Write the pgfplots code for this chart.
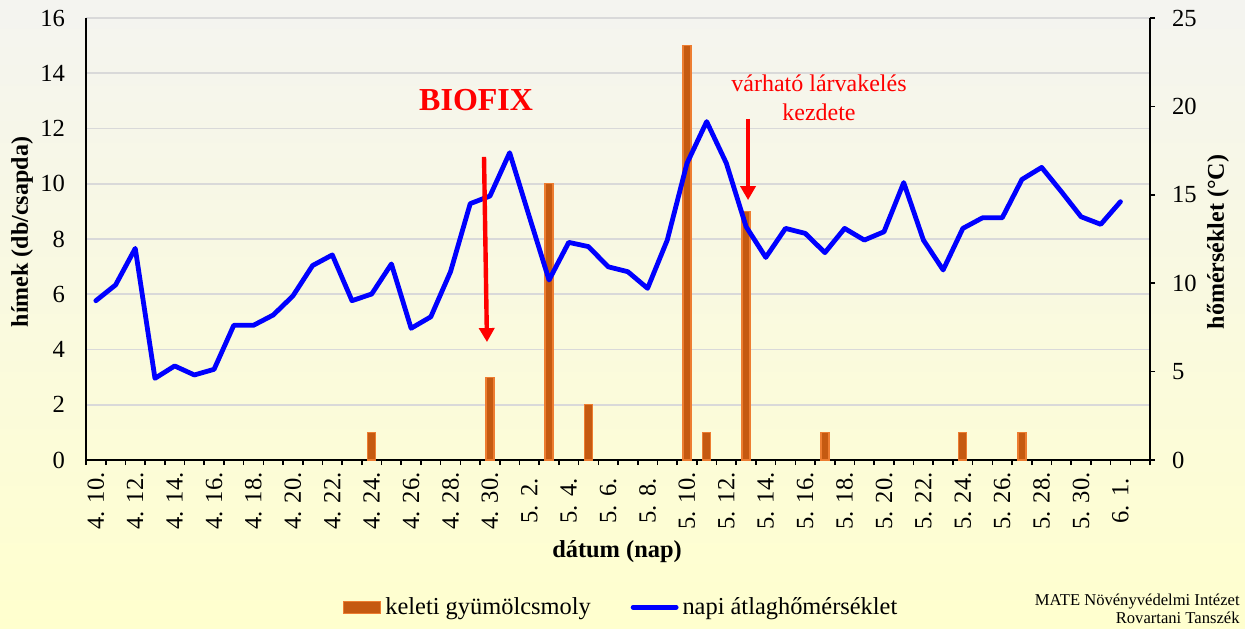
\documentclass[border=0pt]{standalone}
\usepackage{fontspec}
\setmainfont{Liberation Serif}
\usepackage{pgfplots}
\pgfplotsset{compat=1.18}
\usetikzlibrary{arrows.meta}
\definecolor{barfill}{RGB}{197,90,17}
\definecolor{baredge}{RGB}{237,125,49}
\definecolor{gridc}{RGB}{217,217,217}
\definecolor{bgtop}{RGB}{244,244,240}
\definecolor{bgbot}{RGB}{255,255,206}
\definecolor{myred}{RGB}{255,0,0}
\definecolor{myblue}{RGB}{0,0,255}
\newcommand{\tickfont}{\fontsize{12.3}{14}\selectfont}

\pgfplotstableread{
x y
14 1
20 3
23 10
25 2
30 15
31 1
33 9
37 1
44 1
47 1
}\bars

\pgfplotstableread{
x t
0 9.01
1 9.9
2 11.97
3 4.62
4 5.32
5 4.81
6 5.13
7 7.62
8 7.62
9 8.2
10 9.28
11 11.0
12 11.6
13 9.01
14 9.39
15 11.09
16 7.45
17 8.1
18 10.65
19 14.5
20 14.93
21 17.38
22 13.76
23 10.18
24 12.31
25 12.07
26 10.93
27 10.65
28 9.71
29 12.44
30 16.78
31 19.14
32 16.78
33 13.2
34 11.46
35 13.1
36 12.82
37 11.73
38 13.1
39 12.44
40 12.91
41 15.69
42 12.44
43 10.75
44 13.1
45 13.7
46 13.7
47 15.87
48 16.55
49 15.18
50 13.76
51 13.33
52 14.61
}\temp

\begin{document}
\begin{tikzpicture}[x=1pt,y=1pt]
\path[use as bounding box] (0,0) rectangle (622.5,314);
\shade[top color=bgtop, bottom color=bgbot] (0,0) rectangle (622.5,314);
\begin{axis}[
  at={(43pt,84pt)}, anchor=south west, scale only axis,
  width=532pt, height=221pt,
  xmin=-0.5, xmax=53.5, ymin=0, ymax=16,
  axis x line*=bottom, axis y line*=left,
  axis line style={line width=0.9pt, black},
  xtick={0,2,...,52},
  xticklabels={4. 10.,4. 12.,4. 14.,4. 16.,4. 18.,4. 20.,4. 22.,4. 24.,4. 26.,4. 28.,4. 30.,5. 2.,5. 4.,5. 6.,5. 8.,5. 10.,5. 12.,5. 14.,5. 16.,5. 18.,5. 20.,5. 22.,5. 24.,5. 26.,5. 28.,5. 30.,6. 1.},
  minor xtick={-0.5,0.5,...,53.5},
  major tick length=0pt,
  minor tick length=2.5pt,
  tick align=outside,
  minor tick style={black, line width=0.8pt},
  ytick={0,2,...,16},
  ymajorgrids, grid style={gridc, line width=0.9pt},
  /pgf/number format/assume math mode=true,
  xticklabel style={font=\tickfont, yshift=-20.5pt, rotate=90, anchor=center},
  yticklabel style={font=\tickfont, xshift=-7pt},
]
\addplot[ybar, bar width=4pt, fill=barfill, draw=baredge, line width=0.6pt] table[x=x, y=y] {\bars};
\end{axis}
\begin{axis}[
  at={(43pt,84pt)}, anchor=south west, scale only axis,
  width=532pt, height=221pt,
  xmin=-0.5, xmax=53.5, ymin=0, ymax=25,
  axis x line=none, axis y line*=right,
  axis line style={line width=0.9pt, black},
  ytick={0,5,...,25},
  tick align=outside, major tick length=2.5pt,
  tick style={black, line width=0.8pt},
  /pgf/number format/assume math mode=true,
  yticklabel style={font=\tickfont, xshift=5pt},
  legend style={at={(0.504,-0.333)}, anchor=center, draw=none, fill=none,
    legend columns=2, font=\fontsize{12.2}{14}\selectfont,
    /tikz/every even column/.append style={column sep=18pt}},
  legend cell align=left,
]
\addlegendimage{legend image code/.code={\draw[fill=barfill, draw=baredge, line width=0.6pt] (0pt,-3pt) rectangle (18.5pt,3pt);}}
\addlegendentry{keleti gyümölcsmoly}
\addplot[myblue, line width=2.4pt, line join=round, line cap=round,
  legend image code/.code={\draw[myblue, line width=2.4pt, line cap=round] (0pt,0pt) -- (21.5pt,0pt);}]
  table[x=x, y=t] {\temp};
\addlegendentry{napi átlaghőmérséklet}
\draw[myred, line width=2.2pt, -{Triangle[width=7.5pt,length=7pt]}] (axis cs:19.7,17.14) -- (axis cs:19.85,6.67);
\draw[myred, line width=2.2pt, -{Triangle[width=7.5pt,length=7pt]}] (axis cs:33.1,19.29) -- (axis cs:33.1,14.7);
\node[myred, font=\fontsize{16}{18}\selectfont\bfseries] at (axis cs:19.3,20.36) {BIOFIX};
\node[myred, font=\fontsize{12}{14.5}\selectfont, align=center] at (axis cs:36.7,20.5) {várható lárvakelés\\kezdete};
\end{axis}
\node[font=\fontsize{12}{14}\selectfont\bfseries, rotate=90] at (11,198) {hímek (db/csapda)};
\node[font=\fontsize{12}{14}\selectfont\bfseries, rotate=90] at (609,193) {hőmérséklet (°C)};
\node[font=\fontsize{12.2}{14}\selectfont\bfseries] at (308.5,38) {dátum (nap)};
\node[font=\fontsize{8.3}{9}\selectfont, align=right, anchor=east, inner sep=0pt] at (620,9.5) {MATE Növényvédelmi Intézet\\Rovartani Tanszék};
\end{tikzpicture}
\end{document}
